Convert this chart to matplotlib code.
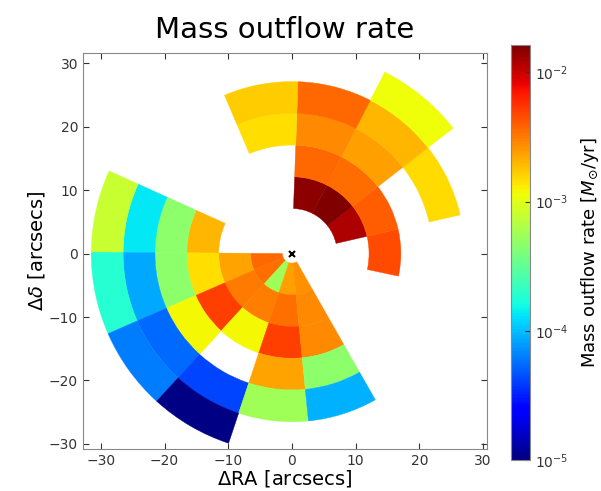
import numpy as np
import matplotlib
matplotlib.use('Agg')
import matplotlib.pyplot as plt
from matplotlib.patches import Wedge
from matplotlib.collections import PatchCollection
from matplotlib.colors import LogNorm

nan = np.nan

# north-east cone: ring edges [arcsec] and sector edges [deg]
ne_r_edges = [7.1, 12.1, 17.1, 22.1, 27.1, 32.1]
ne_theta_edges = [-12, 13, 38, 63, 88, 113]
# mass outflow rate [Msun/yr], rows = rings (inner -> outer), cols = sectors
ne_rate = [
    [nan, 0.012, 0.0165, 0.0145, nan],
    [0.0046, 0.0040, 0.0036, 0.0037, nan],
    [nan, nan, 0.0024, 0.0028, 0.00145],
    [nan, 0.0015, 0.0020, 0.0037, 0.0017],
    [nan, nan, 0.00112, nan, nan],
]

# south-west cone
sw_r_edges = [1.5, 6.5, 11.5, 16.5, 21.5, 26.5, 31.5]
sw_theta_edges = [155.6, 179.6, 203.6, 227.6, 251.6, 275.6, 299.6]
sw_rate = [
    [nan, 0.0037, 0.0035, 0.00056, 0.0024, 0.0027],
    [nan, 0.0023, 0.0032, 0.0031, 0.0035, 0.0028],
    [0.0020, 0.00145, 0.005, 0.0012, 0.005, 0.0028],
    [0.00047, 0.00047, 0.0012, nan, 0.0023, 0.00047],
    [0.000135, 8.5e-5, 5.4e-5, 4.2e-5, 0.00056, 9e-5],
    [0.00079, 0.00019, 6.3e-5, 1.05e-5, nan, nan],
]

vmin, vmax = 1e-5, 0.0162


def make_wedges(r_edges, theta_edges, rate):
    patches, vals = [], []
    for i in range(len(r_edges) - 1):
        for j in range(len(theta_edges) - 1):
            v = rate[i][j]
            if np.isnan(v):
                continue
            patches.append(Wedge((0, 0), r_edges[i + 1], theta_edges[j], theta_edges[j + 1],
                                 width=r_edges[i + 1] - r_edges[i]))
            vals.append(v)
    return patches, vals


p1, v1 = make_wedges(ne_r_edges, ne_theta_edges, ne_rate)
p2, v2 = make_wedges(sw_r_edges, sw_theta_edges, sw_rate)

fig = plt.figure(figsize=(6.01, 4.91), dpi=100)
ax = fig.add_axes([0.1381, 0.0855, 0.672, 0.8065])

pc = PatchCollection(p1 + p2, cmap='jet', norm=LogNorm(vmin=vmin, vmax=vmax),
                     edgecolor='face', linewidth=0.3)
pc.set_array(np.array(v1 + v2))
ax.add_collection(pc)

ax.plot(0, 0, 'kx', ms=4, mew=1.5)

ax.set_xlim(-32.8, 30.6)
ax.set_ylim(-30.8, 31.6)
ax.set_xticks([-30, -20, -10, 0, 10, 20, 30])
ax.set_yticks([-30, -20, -10, 0, 10, 20, 30])
ax.tick_params(direction='in', top=True, right=True, labelsize=10, colors='#333333', length=4)
for s in ax.spines.values():
    s.set_color('#888888')
ax.set_xlabel(r'$\Delta$RA [arcsecs]', fontsize=14, labelpad=0)
ax.set_ylabel(r'$\Delta\delta$ [arcsecs]', fontsize=14, labelpad=1)
ax.set_title('Mass outflow rate', fontsize=21, pad=11)

cax = fig.add_axes([0.850, 0.063, 0.0316, 0.845])
cb = fig.colorbar(pc, cax=cax)
cb.ax.minorticks_off()
cb.ax.tick_params(labelsize=10, colors='#333333', direction='in')
cb.outline.set_edgecolor('#888888')
cb.set_label(r'Mass outflow rate [$M_{\odot}$/yr]', fontsize=13, labelpad=8)

fig.savefig('out.png', dpi=100)
